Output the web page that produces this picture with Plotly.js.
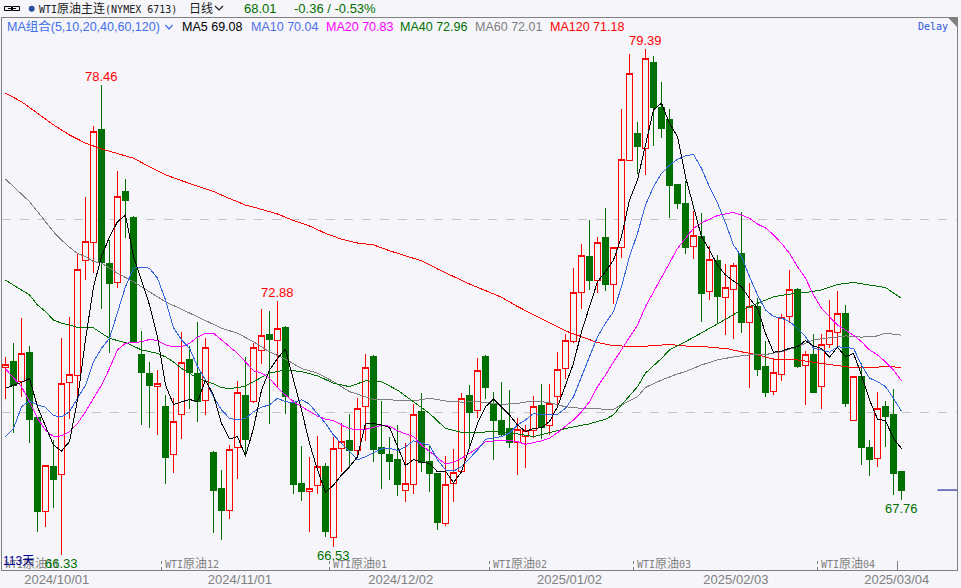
<!DOCTYPE html>
<html>
<head>
<meta charset="utf-8">
<script src="https://cdn.plot.ly/plotly-3.0.1.min.js"></script>
<style>html,body{margin:0;padding:0;background:#f5f5fa}#chart{width:961px;height:588px}</style>
</head>
<body>
<div id="chart"></div>
<script>
var opens = [71.17,71.32,70.81,71.55,69.89,67.46,68.63,68.41,70.79,70.97,
73.94,74.41,77.33,73.85,73.38,75.73,75.05,71.52,71.01,70.68,
70.18,68.92,69.97,71.37,71.03,70.33,68.99,68.04,67.49,69.11,
70.44,70.29,71.62,72.04,71.88,72.21,70.27,68.17,67.97,68.12,
68.63,66.78,69.09,69.30,69.04,70.16,71.45,69.10,68.92,68.79,
68.00,68.16,70.03,68.75,68.45,67.15,68.18,68.48,70.44,70.07,
71.45,70.23,69.81,69.61,69.24,69.40,69.56,70.20,69.68,70.42,
71.14,71.85,73.12,74.05,73.42,74.52,73.32,74.28,76.53,77.23,
76.84,79.04,77.90,77.57,75.89,75.40,74.30,74.55,73.14,73.95,
72.98,73.19,74.13,72.33,72.76,71.19,70.55,71.00,72.49,73.20,
71.23,71.52,70.68,71.76,72.07,72.58,69.80,70.93,69.12,68.82,
70.18,69.95,68.48];
var highs = [71.45,71.82,72.45,71.73,69.89,68.65,69.30,71.93,72.49,74.10,
75.58,77.41,78.46,74.47,76.25,76.04,75.09,72.12,71.32,71.11,
70.46,70.38,72.08,71.73,72.34,71.94,69.02,68.53,69.17,70.83,
71.45,71.82,72.69,72.63,72.88,72.25,70.34,69.15,68.86,69.41,
68.70,69.37,69.73,69.98,70.39,71.52,71.50,70.32,69.37,69.69,
69.23,70.23,70.51,69.17,68.45,68.89,69.07,70.52,70.72,71.41,
71.50,70.53,70.80,70.59,69.86,69.69,70.43,70.75,70.75,71.58,
72.03,73.74,74.36,74.98,74.55,75.29,74.28,77.85,79.27,77.52,
79.39,79.22,78.55,77.85,75.89,75.99,75.22,75.16,74.31,74.08,
73.84,73.87,75.18,73.35,72.96,71.85,71.41,72.55,73.69,73.23,
71.60,72.04,72.04,72.92,73.15,72.79,70.96,71.29,69.30,70.53,
70.31,70.62,68.48];
var lows = [70.36,69.49,70.41,69.23,66.93,67.06,67.54,66.33,69.85,70.34,
73.44,73.61,72.68,71.54,73.24,74.53,71.83,69.69,69.62,69.43,
68.17,68.46,69.34,70.10,69.78,69.96,66.91,66.73,67.27,68.30,
68.87,70.25,71.27,69.72,70.65,69.97,67.91,67.73,66.93,67.91,
66.80,66.53,68.48,68.62,68.83,69.27,68.73,68.04,68.28,67.86,
67.71,67.92,68.47,67.97,66.99,67.09,67.71,68.48,69.13,69.86,
70.37,68.79,69.37,69.10,68.41,68.59,69.36,69.34,69.43,70.22,
70.87,71.80,72.69,73.18,73.11,73.16,72.81,74.00,76.53,76.17,
76.15,76.90,77.11,75.04,75.27,74.11,73.98,72.36,72.92,72.32,
72.01,71.92,72.06,70.65,70.96,70.42,70.47,70.83,72.32,71.17,
70.21,70.52,70.10,71.67,71.70,70.16,69.80,68.66,68.36,68.61,
69.12,67.89,67.76];
var closes = [71.26,70.72,71.54,69.83,67.45,68.65,68.28,70.77,71.00,73.71,
74.42,77.28,73.88,73.34,75.60,75.48,71.83,71.04,70.71,70.77,
68.85,69.79,71.31,71.04,70.29,71.70,67.99,67.48,69.06,70.53,
69.31,71.70,72.01,71.89,72.19,70.42,68.15,67.96,68.06,68.62,
66.93,69.09,69.27,69.03,70.12,71.18,69.07,68.95,68.76,68.15,
68.18,69.97,68.73,68.43,67.17,68.16,68.47,70.38,70.01,71.10,
70.65,69.80,69.44,69.23,69.58,69.55,70.16,69.63,70.25,71.13,
71.88,73.12,74.07,73.42,74.41,73.31,74.28,76.55,78.77,76.88,
79.16,77.88,77.34,75.87,75.41,74.27,74.59,73.08,73.97,73.00,
73.25,73.81,72.33,72.76,71.12,70.52,71.05,72.46,73.19,71.20,
71.52,70.54,71.77,72.14,72.57,70.24,70.93,69.10,68.81,70.12,
69.92,68.45,68.01];
var ma5 = [70.64,70.71,70.79,70.89,70.16,69.66,69.17,69.02,69.26,70.34,
71.89,73.26,74.04,74.55,74.94,75.11,74.04,73.43,72.79,71.97,
70.72,70.22,70.28,70.35,70.29,70.85,70.46,69.73,69.33,69.39,
68.89,69.60,70.59,71.11,71.41,71.65,70.85,70.08,69.22,68.53,
67.95,68.14,68.40,68.61,68.87,69.73,69.73,69.69,69.63,69.13,
68.64,68.80,68.73,68.70,68.48,68.50,68.20,68.48,69.13,69.73,
70.16,70.36,70.16,69.95,69.69,69.52,69.60,69.62,69.78,70.16,
70.72,71.28,72.10,72.75,73.39,73.65,73.95,74.55,75.50,76.02,
76.97,77.83,78.00,77.48,77.14,76.10,75.33,74.55,74.21,73.82,
73.56,73.41,73.26,72.96,72.70,72.06,71.57,71.60,71.67,71.71,
71.87,71.73,71.67,71.44,71.70,71.45,71.54,70.98,70.34,69.84,
69.80,69.35,69.08];
var ma10 = [69.39,69.60,70.16,70.31,70.21,70.15,69.93,69.90,70.03,70.38,
70.72,71.32,71.67,71.93,72.57,73.26,73.74,73.76,73.74,73.48,
72.92,72.20,71.89,71.67,71.20,70.85,70.42,70.08,69.86,69.82,
69.86,70.03,70.15,70.21,70.38,70.29,70.27,70.34,70.23,69.99,
69.73,69.43,69.22,69.00,68.79,68.87,68.96,69.07,69.09,69.03,
69.13,69.28,69.22,69.17,68.79,68.53,68.50,68.61,68.83,69.04,
69.32,69.35,69.39,69.48,69.69,69.82,69.99,69.95,69.95,69.97,
70.12,70.42,70.94,71.45,71.97,72.32,72.62,73.26,74.04,74.64,
75.37,75.84,76.19,76.40,76.55,76.64,76.68,76.32,75.84,75.42,
74.91,74.34,74.04,73.52,73.05,72.66,72.49,72.45,72.36,72.19,
71.97,71.67,71.63,71.57,71.71,71.69,71.67,71.24,70.90,70.81,
70.68,70.38,70.04];
var ma20 = [71.14,70.92,70.68,70.29,69.86,69.56,69.39,69.41,69.52,69.73,
70.03,70.38,70.72,71.15,71.63,71.80,71.82,71.84,71.90,71.87,
71.76,71.71,71.71,71.80,71.96,72.06,72.06,71.89,71.71,71.54,
71.32,71.09,71.03,70.90,70.66,70.46,70.29,70.16,70.03,69.92,
69.84,69.80,69.69,69.59,69.58,69.58,69.63,69.68,69.66,69.54,
69.46,69.39,69.17,69.00,68.83,68.68,68.73,68.83,68.96,69.09,
69.26,69.28,69.29,69.29,69.26,69.19,69.23,69.28,69.35,69.49,
69.66,69.82,70.03,70.29,70.68,70.98,71.32,71.63,71.97,72.27,
72.75,73.13,73.48,73.87,74.25,74.51,74.77,74.91,75.00,75.10,
75.14,75.18,75.11,75.03,74.88,74.78,74.60,74.38,74.12,73.78,
73.48,73.05,72.70,72.49,72.27,72.14,72.01,71.84,71.63,71.50,
71.32,71.11,70.83];
var ma40Days = [0,2,3,4,5,6,7,8,9,10,11,12,13,14,15,17,19,20,21,22,24,26,27,28,29,30,32,33,35,37,39,41,43,45,47,49,51,53,55,57,59,61,64,66,68,70,73,75,76,77,79,80,82,83,85,87,89,92,94,96,98,100,102,104,106,108,110,112];
var ma40 = [73.43,73.18,73.05,72.79,72.62,72.40,72.32,72.27,72.21,72.20,72.20,72.06,71.93,71.87,71.82,71.63,71.54,71.45,71.32,71.15,70.90,70.75,70.65,70.64,70.65,70.70,70.93,71.03,71.11,71.07,70.96,70.77,70.68,70.83,70.81,70.59,70.29,69.99,69.60,69.50,69.50,69.52,69.46,69.39,69.49,69.60,69.72,69.84,69.95,70.21,70.68,71.03,71.41,71.63,71.84,72.06,72.30,72.66,72.84,73.00,73.07,73.11,73.18,73.32,73.37,73.31,73.24,72.96];
var ma60Days = [0,2,3,4,5,6,7,8,9,10,11,12,14,16,18,20,22,25,27,29,31,33,35,37,39,41,43,45,46,48,51,53,55,57,59,62,64,66,68,70,72,74,75,76,77,79,80,82,84,85,87,89,91,93,95,97,99,101,105,107,109,110,112];
var ma60 = [76.04,75.67,75.46,75.20,74.94,74.68,74.47,74.28,74.12,74.04,73.91,73.87,73.61,73.39,73.13,72.87,72.68,72.38,72.19,72.06,71.84,71.58,71.39,71.15,71.03,70.81,70.55,70.42,70.35,70.34,70.31,70.38,70.31,70.28,70.29,70.22,70.25,70.31,70.27,70.16,70.12,70.12,70.08,70.10,70.21,70.42,70.66,70.85,71.01,71.07,71.24,71.37,71.45,71.50,71.51,71.58,71.71,71.89,71.99,71.96,71.99,72.06,72.01];
var ma120Days = [0,2,4,6,8,10,12,14,16,18,20,22,24,26,28,30,32,34,36,38,40,42,44,46,48,50,52,54,56,58,60,62,64,66,68,70,72,74,76,79,81,83,85,87,89,90,92,94,96,99,102,104,106,108,110,112];
var ma120 = [78.26,78.04,77.74,77.44,77.18,76.97,76.82,76.70,76.58,76.36,76.15,76.00,75.86,75.72,75.54,75.37,75.26,75.14,74.97,74.83,74.64,74.49,74.39,74.34,74.19,74.06,73.93,73.72,73.52,73.33,73.16,72.99,72.75,72.55,72.33,72.12,71.97,71.82,71.74,71.71,71.74,71.77,71.73,71.72,71.68,71.67,71.58,71.50,71.39,71.37,71.28,71.22,71.17,71.17,71.20,71.18];
var dateLabels = ["2024/10/01","2024/11/01","2024/12/02","2025/01/02","2025/02/03","2025/03/04"];
var dateTicks = [6.4,29.3,49.4,70.5,91.3,111.4];
var contractLabels = ["WTI原油11","WTI原油12","WTI原油01","WTI原油02","WTI原油03","WTI原油04"];
var contractTicks = [-0.5,19.5,40.5,60.5,78.5,101.5];
var lastTick = 111.5;
var lastPrice = 68.01;

var BG = '#f5f5fa', UP = '#ff0000', DOWN = '#007000';
var SANS = '"Liberation Sans","Noto Sans CJK SC",sans-serif';
var MONO = '"DejaVu Sans Mono","Noto Sans CJK SC",monospace';
var PL = 2, PT = 18, PW = 955, PH = 552;
function px(v){ return (v-PL)/PW; }
function py(v){ return (PT+PH-v)/PH; }
var days = opens.map(function(_,i){ return i; });

function line(x, y, color, name){
  return {type:'scatter', mode:'lines', x:x, y:y, name:name, hoverinfo:'skip', showlegend:false,
          line:{color:color, width:1}};
}
var traces = [
  {type:'candlestick', x:days, open:opens, high:highs, low:lows, close:closes, hoverinfo:'skip', showlegend:false,
   whiskerwidth:0,
   increasing:{line:{color:UP,width:1}, fillcolor:BG},
   decreasing:{line:{color:DOWN,width:1}, fillcolor:DOWN}},
  line(ma120Days, ma120, '#ff0000', 'MA120'),
  line(ma60Days, ma60, '#808080', 'MA60'),
  line(ma40Days, ma40, '#007000', 'MA40'),
  line(days, ma20, '#ff00ff', 'MA20'),
  line(days, ma10, '#3366dd', 'MA10'),
  line(days, ma5, '#000000', 'MA5')
];

function hdr(x, y, text, color, size, fam){
  return {xref:'paper', yref:'paper', x:px(x), y:py(y), text:text, showarrow:false, xanchor:'left', yanchor:'middle',
          borderpad:0, font:{family:fam||SANS, size:size||13, color:color}};
}
function val(i, p, text, color, anchor){
  return {xref:'x', yref:'y', x:i, y:p, text:text, showarrow:false, xanchor:'center', yanchor:anchor, borderpad:0,
          font:{family:SANS, size:13, color:color}};
}
var annotations = [
  hdr(38, 8.5, 'WTI<span style="font-size:12px">原油主连</span>(NYMEX 6713)', '#202020', 10, MONO),
  hdr(188, 8.5, '日线', '#202020', 12),
  hdr(243, 8.5, '68.01', '#007000', 13),
  hdr(293, 8.5, '-0.36 / -0.53%', '#007000', 13),
  hdr(6, 26.5, 'MA组合(5,10,20,40,60,120)', '#3f6fe8', 12.5),
  hdr(181, 26.5, 'MA5 69.08', '#000000', 12.5),
  hdr(250, 26.5, 'MA10 70.04', '#4f6fe8', 12.5),
  hdr(325, 26.5, 'MA20 70.83', '#ff00ff', 12.5),
  hdr(399, 26.5, 'MA40 72.96', '#007000', 12.5),
  hdr(474, 26.5, 'MA60 72.01', '#808080', 12.5),
  hdr(549, 26.5, 'MA120 71.18', '#ff0000', 12.5),
  hdr(917, 26.5, 'Delay', '#2a55d8', 10, MONO),
  val(12, 78.46, '78.46', '#ff0000', 'bottom'),
  val(34, 72.88, '72.88', '#ff0000', 'bottom'),
  val(80, 79.39, '79.39', '#ff0000', 'bottom'),
  val(41, 66.53, '66.53', '#007000', 'top'),
  val(112, 67.76, '67.76', '#007000', 'top')
];
contractLabels.forEach(function(t,k){
  annotations.push({xref:'x', yref:'paper', x:contractTicks[k]+0.35, y:py(563.5), text:'WTI<span style="font-size:12px">'+t.slice(3,5)+'</span>'+t.slice(5),
    showarrow:false, xanchor:'left', yanchor:'middle', borderpad:0, font:{family:MONO, size:10, color:'#808080'}});
});
annotations.push(val(7, 66.33, '66.33', '#007000', 'top'));
annotations.push(hdr(2, 560.5, '113天', '#000090', 12));

var shapes = [
  {type:'rect', xref:'paper', yref:'paper', x0:px(4.5), x1:px(11.5), y0:py(6.5), y1:py(10.5), line:{color:'#000',width:1}},
  {type:'rect', xref:'paper', yref:'paper', x0:px(12.5), x1:px(19.5), y0:py(6.5), y1:py(10.5), line:{color:'#000',width:1}},
  {type:'line', xref:'paper', yref:'paper', x0:px(8), x1:px(16), y0:py(8.5), y1:py(8.5), line:{color:'#000',width:1}},
  {type:'circle', xref:'paper', yref:'paper', x0:px(28.7), x1:px(34.7), y0:py(5.7), y1:py(11.7), fillcolor:'#2a4f9e', line:{width:0}},
  {type:'path', xref:'paper', yref:'paper', path:'M'+px(215)+','+py(6)+' L'+px(219)+','+py(10)+' L'+px(223)+','+py(6), line:{color:'#202020',width:1.2}},
  {type:'path', xref:'paper', yref:'paper', path:'M'+px(165.5)+','+py(25)+' L'+px(169)+','+py(29)+' L'+px(172.5)+','+py(25), line:{color:'#3f6fe8',width:1.2}},
  {type:'path', xref:'paper', yref:'paper', path:'M'+px(948)+','+py(17.5)+' L'+px(957)+','+py(17.5)+' L'+px(957)+','+py(27)+' Z', fillcolor:'#808080', line:{width:0}},
  {type:'line', xref:'x', yref:'y', x0:116.5, x1:118.94, y0:lastPrice, y1:lastPrice, line:{color:'#000090',width:1}},
  {type:'line', xref:'x', yref:'paper', x0:lastTick, x1:lastTick, y0:py(570), y1:py(561), line:{color:'#808080',width:1}}
];
contractTicks.forEach(function(t){
  shapes.push({type:'line', xref:'x', yref:'paper', x0:t, x1:t, y0:py(570), y1:py(558), line:{color:'#808080',width:1,dash:'dot'}});
});

var layout = {
  width:961, height:588, margin:{l:PL, r:4, t:PT, b:18, pad:0},
  paper_bgcolor:BG, plot_bgcolor:BG, showlegend:false, dragmode:false, boxgap:0.25, boxgroupgap:0,
  xaxis:{type:'linear', range:[-0.4375,118.9375], rangeslider:{visible:false}, fixedrange:true,
    tickmode:'array', tickvals:dateTicks, ticktext:dateLabels, ticks:'', showgrid:false, zeroline:false,
    showline:true, mirror:true, linecolor:'#808080', linewidth:1, ticklabelstandoff:-3,
    tickfont:{family:SANS, size:13, color:'#808080'}},
  yaxis:{type:'linear', range:[65.945,80.201], fixedrange:true, tickmode:'array', tickvals:[70,75], showticklabels:false,
    ticks:'', showgrid:true, gridcolor:'#c4c4c4', griddash:'dash', gridwidth:1, zeroline:false,
    showline:true, mirror:true, linecolor:'#808080', linewidth:1},
  annotations:annotations, shapes:shapes
};
Plotly.newPlot('chart', traces, layout, {displayModeBar:false, staticPlot:true}).then(function(){
  document.querySelectorAll('.boxlayer path').forEach(function(p){ p.style.shapeRendering='crispEdges'; });
  document.querySelectorAll('.scatterlayer path.js-line').forEach(function(p){ p.style.shapeRendering='crispEdges'; });
});
</script>
</body>
</html>
